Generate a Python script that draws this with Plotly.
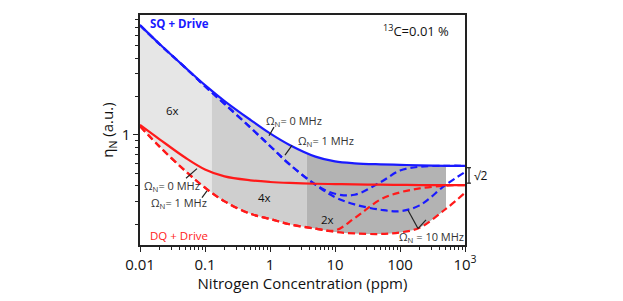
import numpy as np
import plotly.graph_objects as go

# ---------------- data ----------------
conc = [0.01, 0.02, 0.05, 0.1, 0.2, 0.5, 1, 2, 5, 10, 20, 50, 100, 200, 500, 1000]

sq_0 = [7.24, 5.15, 3.36, 2.455, 1.841, 1.310, 1.026, 0.833, 0.675, 0.619, 0.598, 0.587, 0.582, 0.577, 0.572, 0.572]
sq_1 = [7.24, 5.135, 3.356, 2.401, 1.748, 1.140, 0.818, 0.587, 0.407, 0.345, 0.339, 0.425, 0.5245, 0.562, 0.572, 0.572]
sq_10 = [7.24, 5.135, 3.356, 2.401, 1.748, 1.140, 0.818, 0.587, 0.407, 0.3246, 0.2848, 0.2588, 0.2521, 0.280, 0.404, 0.511]

dq_0 = [1.197, 0.923, 0.661, 0.535, 0.472, 0.440, 0.427, 0.4195, 0.4137, 0.411, 0.4089, 0.4065, 0.405, 0.404, 0.404, 0.404]
dq_1 = [1.170, 0.808, 0.520, 0.385, 0.301, 0.2405, 0.219, 0.199, 0.184, 0.178, 0.222, 0.311, 0.354, 0.380, 0.400, 0.404]
dq_10 = [1.170, 0.808, 0.520, 0.385, 0.301, 0.2405, 0.219, 0.199, 0.184, 0.1733, 0.1688, 0.167, 0.1717, 0.187, 0.261, 0.351]

region_edges = [0.01, 0.127, 3.67, 510]
region_labels = ["6x", "4x", "2x"]
region_colors = ["#e6e6e6", "#cfcfcf", "#b3b3b3"]

x_tickvals = [0.01, 0.1, 1, 10, 100, 1000]
x_ticktext = ["0.01", "0.1", "1", "10", "100", "10<sup>3</sup>"]

BLUE = "#1a1aff"
RED = "#ff1a1a"
FONT = "Open Sans"
TXT = "#333333"
DASH = "7px,4px"

# page offset of the figure (browser body margin)
OFF = 8
XLOG = (-2, 3)

fig = go.Figure()

# gray bands (clipped afterwards by white fills above SQ and below DQ)
shapes = []
for i in range(3):
    shapes.append(dict(type="rect", xref="paper", yref="paper", layer="below",
                       x0=(np.log10(region_edges[i]) - XLOG[0]) / (XLOG[1] - XLOG[0]),
                       x1=(np.log10(region_edges[i + 1]) - XLOG[0]) / (XLOG[1] - XLOG[0]),
                       y0=0, y1=1, fillcolor=region_colors[i], line=dict(width=0)))

ceiling = [100] * len(conc)
floor = [0.01] * len(conc)
fig.add_trace(go.Scatter(x=conc, y=ceiling, mode="lines", line=dict(width=0),
                         hoverinfo="skip", showlegend=False))
fig.add_trace(go.Scatter(x=conc, y=sq_0, mode="lines", line=dict(width=0, shape="spline"),
                         fill="tonexty", fillcolor="white", hoverinfo="skip", showlegend=False))
fig.add_trace(go.Scatter(x=conc, y=dq_10, mode="lines", line=dict(width=0, shape="spline"),
                         hoverinfo="skip", showlegend=False))
fig.add_trace(go.Scatter(x=conc, y=floor, mode="lines", line=dict(width=0),
                         fill="tonexty", fillcolor="white", hoverinfo="skip", showlegend=False))

# curves
for ys, col, dash in [(dq_10, RED, DASH), (dq_1, RED, DASH),
                      (sq_10, BLUE, DASH), (sq_1, BLUE, DASH),
                      (dq_0, RED, "solid"), (sq_0, BLUE, "solid")]:
    fig.add_trace(go.Scatter(x=conc, y=ys, mode="lines",
                             line=dict(color=col, width=2.2, dash=dash, shape="spline"),
                             showlegend=False))


# ------------- annotations -------------
def px_x(p):  # screen pixel x -> paper
    return (p - 140) / 325.0


def px_y(p):  # screen pixel y -> paper
    return (251 - p) / 238.0


ann = []


def label(text, x, y, size=11, color=TXT, anchor="left", bold=False):
    t = f"<b>{text}</b>" if bold else text
    ann.append(dict(text=t, x=px_x(x), y=px_y(y), xref="paper", yref="paper",
                    xanchor=anchor, yanchor="middle", showarrow=False,
                    font=dict(family=FONT, size=size, color=color)))


label("SQ + Drive", 148, 22, size=11.5, color=BLUE, bold=True)
label("DQ + Drive", 148, 241, size=11.5, color=RED)
label("<sup>13</sup>C=0.01 %", 451, 29, size=13, color="#111111", anchor="right")
label(region_labels[0], 172, 112, size=11.5, color="#111111", anchor="center")
label(region_labels[1], 264, 202, size=11.5, color="#111111", anchor="center")
label(region_labels[2], 327, 225, size=11.5, color="#111111", anchor="center")
label("Ω<sub>N</sub>= 0 MHz", 264, 123)
label("Ω<sub>N</sub>= 1 MHz", 296, 143)
label("Ω<sub>N</sub>= 0 MHz", 142, 190)
label("Ω<sub>N</sub>= 1 MHz", 149, 208)
label("Ω<sub>N</sub> = 10 MHz", 397, 243)
label("√2", 472, 179, size=12, color="#111111")


def seg(x0, y0, x1, y1, w=1.2, color="#222222"):
    shapes.append(dict(type="line", xref="paper", yref="paper",
                       x0=px_x(x0), y0=px_y(y0), x1=px_x(x1), y1=px_y(y1),
                       line=dict(color=color, width=w)))


seg(274, 129, 269, 138)
seg(292, 148, 285, 158)
seg(186, 182, 197, 172)
seg(202, 202, 207, 195)
seg(408, 215, 418, 234)
seg(418, 234, 426, 225)
# sqrt(2) bracket
seg(469, 171, 469, 187)
seg(467, 171, 471, 171)
seg(467, 187, 471, 187)

fig.update_layout(
    width=623 - 2 * OFF, height=301 - 2 * OFF,
    margin=dict(l=140 - OFF, r=623 - 465 - OFF, t=13 - OFF, b=301 - 251 - OFF),
    paper_bgcolor="white", plot_bgcolor="white",
    font=dict(family=FONT, color="#111111"),
    annotations=ann, shapes=shapes,
    showlegend=False,
)

fig.update_xaxes(
    type="log", range=list(XLOG),
    tickmode="array", tickvals=x_tickvals, ticktext=x_ticktext,
    ticks="outside", ticklen=5, tickwidth=1.2, tickcolor="#222222",
    tickfont=dict(family=FONT, size=15, color="#111111"),
    showline=True, linecolor="#222222", linewidth=1.5, mirror=True,
    showgrid=False, zeroline=False,
    minor=dict(ticks="outside", ticklen=3, tickwidth=1, tickcolor="#222222",
               tickvals=[m * d for d in [0.01, 0.1, 1, 10, 100] for m in range(2, 10)],
               showgrid=False),
    title=dict(text="Nitrogen Concentration (ppm)", standoff=4,
               font=dict(family=FONT, size=15, color="#111111")),
)

fig.update_yaxes(
    type="log", range=[-0.8636, 0.9394],
    tickmode="array", tickvals=[1], ticktext=["1"],
    ticks="outside", ticklen=5, tickwidth=1.2, tickcolor="#222222",
    tickfont=dict(family=FONT, size=15, color="#111111"),
    showline=True, linecolor="#222222", linewidth=1.5, mirror=True,
    showgrid=False, zeroline=False,
    minor=dict(ticks="outside", ticklen=3, tickwidth=1, tickcolor="#222222",
               tickvals=[0.2, 0.3, 0.4, 0.5, 0.6, 0.7, 0.8, 0.9, 2, 3, 4, 5, 6, 7, 8],
               showgrid=False),
    title=dict(text="η<sub>N</sub> (a.u.)", standoff=4,
               font=dict(family=FONT, size=15, color="#111111")),
)

fig.write_html("out.html")
